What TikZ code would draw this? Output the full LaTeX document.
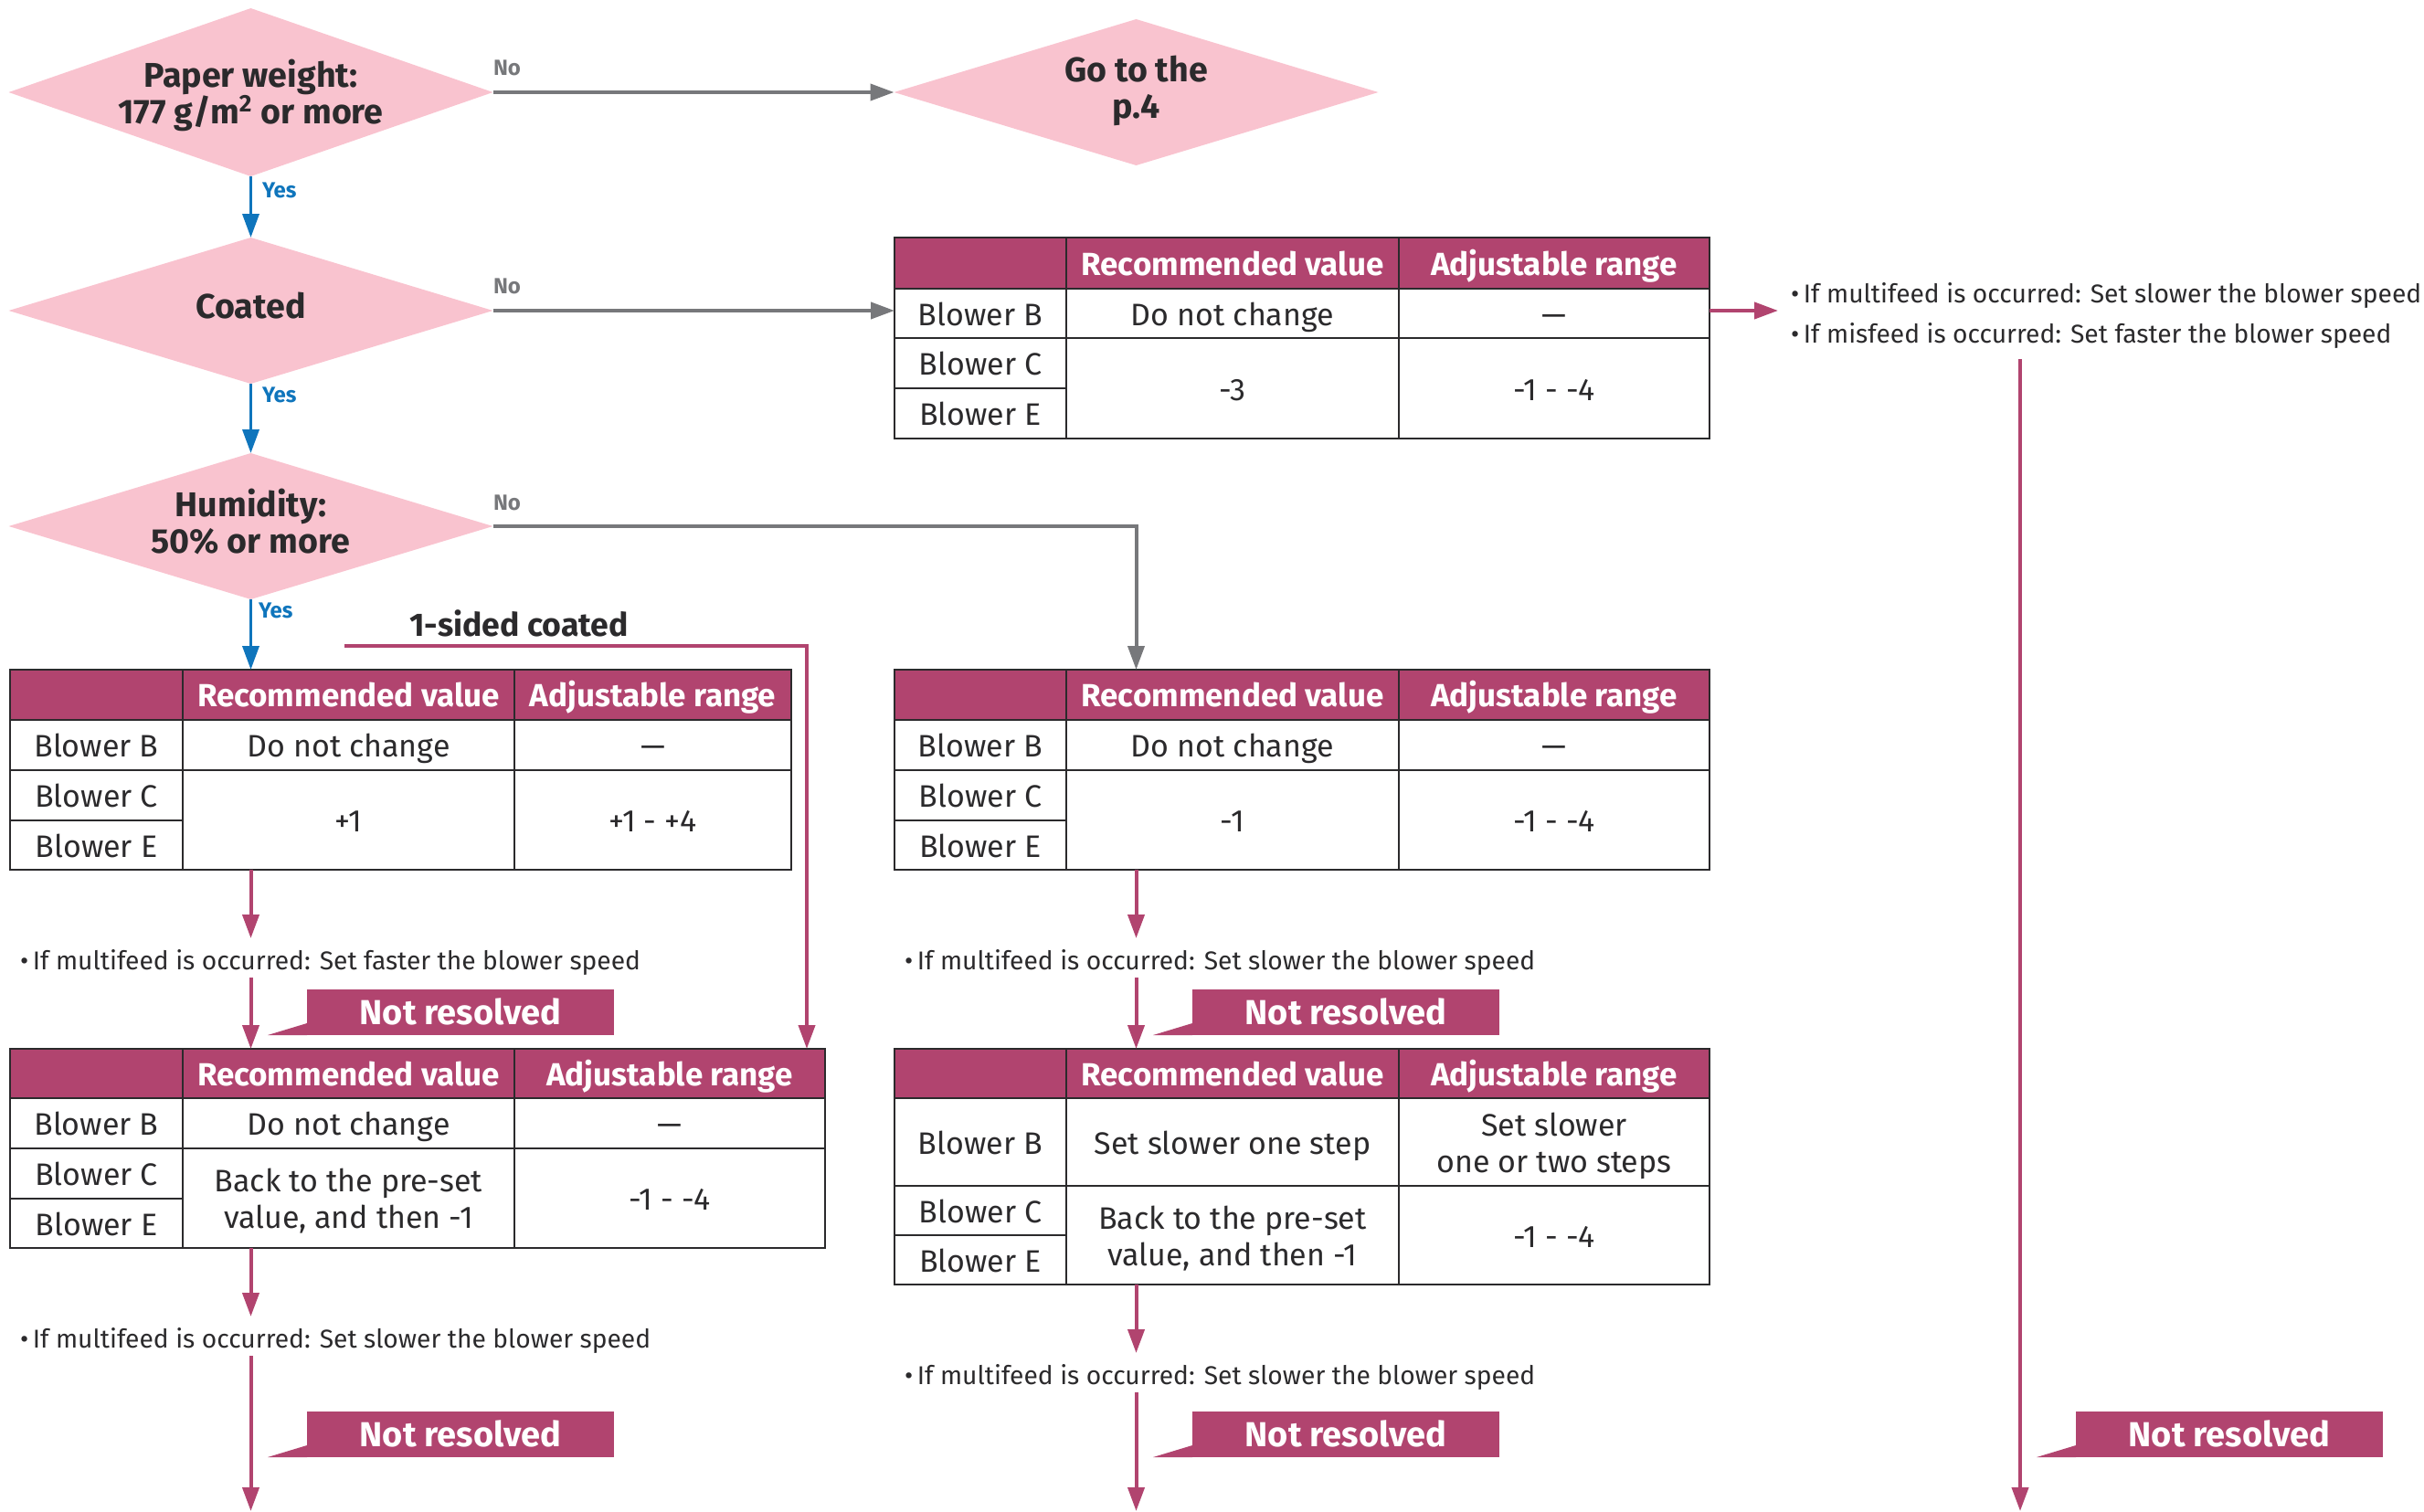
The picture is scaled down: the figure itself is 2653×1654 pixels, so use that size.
\documentclass[tikz,border=0pt]{standalone}
\usepackage{fontspec}
\setmainfont{Fira Sans}
\usetikzlibrary{arrows.meta,shapes.geometric}
\definecolor{mag}{HTML}{B1446F}
\definecolor{pinkd}{HTML}{F9C3CF}
\definecolor{bluel}{HTML}{0F75BC}
\definecolor{grayl}{HTML}{77787B}
\definecolor{ink}{HTML}{2B2A2C}
\newcommand{\lowered}[2]{\raisebox{-#1}[14pt][6pt]{#2}}
\tikzset{
  x=0.5pt,y=-0.5pt,
  every node/.style={inner sep=0pt,outer sep=0pt,text=ink,align=center},
  struts/.style={execute at begin node={\rule{0pt}{19pt}},execute at end node={\rule[-6pt]{0pt}{6pt}}},
  deci/.style={shape=diamond,fill=pinkd,font=\fontsize{18.8}{20}\selectfont\bfseries,
    execute at begin node={\rule{0pt}{14pt}},execute at end node={\rule[-6pt]{0pt}{6pt}}},
  hdr/.style={rectangle,draw=ink,line width=1pt,fill=mag,text=white,struts,font=\fontsize{17.5}{20}\selectfont\bfseries},
  bodyc/.style={rectangle,draw=ink,line width=1pt,fill=white,struts,font=\fontsize{17}{20}\selectfont},
  ghost/.style={rectangle},
  nresolved/.style={rectangle,fill=mag,text=white,struts,font=\fontsize{19}{20}\selectfont\bfseries},
  notetxt/.style={align=left,anchor=base west,text height=17pt,text depth=4.5pt,font=\fontsize{14.1}{21.5}\selectfont},
  yeslab/.style={text=bluel,font=\fontsize{12}{13}\selectfont\bfseries},
  nolab/.style={text=grayl,font=\fontsize{12}{13}\selectfont\bfseries},
  bluear/.style={draw=bluel,line width=1.8pt,-{Triangle[length=13pt,width=9pt]}},
  grayar/.style={draw=grayl,line width=2pt,-{Triangle[length=13pt,width=9pt]}},
  magar/.style={draw=mag,line width=2pt,-{Triangle[length=13pt,width=9pt]}},
}
\newcommand{\cell}[7]{%
  \pgfmathsetmacro\cw{(#4-#2)*0.5}%
  \pgfmathsetmacro\ch{(#5-#3)*0.5}%
  \pgfmathsetmacro\cx{(#2+#4)/2}%
  \pgfmathsetmacro\cy{(#3+#5)/2}%
  \node[#6,minimum width=\cw pt,minimum height=\ch pt] (#1) at (\cx,\cy) {#7};}
\newcommand{\setcols}[4]{\def\xa{#1}\def\xb{#2}\def\xc{#3}\def\xd{#4}}
\newcommand{\setrows}[5]{\def\ya{#1}\def\yb{#2}\def\yc{#3}\def\yd{#4}\def\ye{#5}}
\newcommand{\tbl}[5]{%
  \cell{#1}{\xa}{\ya}{\xd}{\ye}{ghost}{}%
  \cell{#1h0}{\xa}{\ya}{\xb}{\yb}{hdr}{}%
  \cell{#1h1}{\xb}{\ya}{\xc}{\yb}{hdr}{Recommended value}%
  \cell{#1h2}{\xc}{\ya}{\xd}{\yb}{hdr}{Adjustable range}%
  \cell{#1b}{\xa}{\yb}{\xb}{\yc}{bodyc}{Blower B}%
  \cell{#1c}{\xa}{\yc}{\xb}{\yd}{bodyc}{Blower C}%
  \cell{#1e}{\xa}{\yd}{\xb}{\ye}{bodyc}{Blower E}%
  \cell{#1v1}{\xb}{\yb}{\xc}{\yc}{bodyc}{#2}%
  \cell{#1v2}{\xb}{\yc}{\xc}{\ye}{bodyc}{#3}%
  \cell{#1r1}{\xc}{\yb}{\xd}{\yc}{bodyc}{#4}%
  \cell{#1r2}{\xc}{\yc}{\xd}{\ye}{bodyc}{#5}}
\newcommand{\notres}[3]{% name, left x, top y
  \pgfmathsetmacro\nrr{#2+336}\pgfmathsetmacro\nrb{#3+50}%
  \cell{#1}{#2}{#3}{\nrr}{\nrb}{nresolved}{Not resolved}%
  \fill[mag] (#1.south west) -- ++(-43,0) -- ([yshift=6.5pt]#1.south west) -- cycle;}
\begin{document}
\begin{tikzpicture}
\useasboundingbox (0,0) rectangle (2653,1654);
% decisions
\node[deci,minimum width=265pt,minimum height=92pt,shape aspect=2.85] (d1) at (274.5,101) {\lowered{3pt}{Paper weight:}\\\lowered{3pt}{177 g/m\textsuperscript{2} or more}};
\node[deci,minimum width=265pt,minimum height=80pt,shape aspect=3.28] (d2) at (274.5,340) {Coated};
\node[deci,minimum width=265pt,minimum height=80pt,shape aspect=3.28] (d3) at (274.5,576) {Humidity:\\50\% or more};
\node[deci,minimum width=265pt,minimum height=80pt,shape aspect=3.28] (d4) at (1243.5,101) {Go to the\\p.4};
% tables
\setcols{11}{200}{563}{866}\setrows{733}{788}{843}{898}{952}
\tbl{tb}{Do not change}{+1}{—}{+1 - +4}
\setcols{979}{1167}{1531}{1871}\setrows{260}{316}{370}{425}{480}
\tbl{ta}{Do not change}{-3}{—}{-1 - -4}
\setrows{733}{788}{843}{898}{952}
\tbl{tc}{Do not change}{-1}{—}{-1 - -4}
\setcols{11}{200}{563}{903}\setrows{1148}{1202}{1257}{1312}{1366}
\tbl{td}{Do not change}{\lowered{2.5pt}{Back to the pre-set}\\\lowered{2.5pt}{value, and then -1}}{—}{-1 - -4}
\setcols{979}{1167}{1531}{1871}\setrows{1148}{1202}{1298}{1352}{1406}
\tbl{te}{Set slower one step}{\lowered{2.5pt}{Back to the pre-set}\\\lowered{2.5pt}{value, and then -1}}{\lowered{2.5pt}{Set slower}\\\lowered{2.5pt}{one or two steps}}{-1 - -4}
% notes
\node[notetxt,inner xsep=7pt] (na) at (1946,331) {\textbullet\,If multifeed is occurred: Set slower the blower speed};
\node[notetxt,inner xsep=7pt,text depth=9pt] (naa) at (1946,375) {\textbullet\,If misfeed is occurred: Set faster the blower speed};
\node[notetxt] (nb) at (22,1061) {\textbullet\,If multifeed is occurred: Set faster the blower speed};
\node[notetxt] (nc) at (990,1061) {\textbullet\,If multifeed is occurred: Set slower the blower speed};
\node[notetxt] (nd) at (22,1475) {\textbullet\,If multifeed is occurred: Set slower the blower speed};
\node[notetxt] (ne) at (990,1515) {\textbullet\,If multifeed is occurred: Set slower the blower speed};
% not resolved flags
\notres{fb}{336}{1083}
\notres{fd}{336}{1545}
\notres{fc}{1305}{1083}
\notres{fe}{1305}{1545}
\notres{fa}{2272}{1545}
% free ends
\coordinate (bl) at (274.5,1654);
\coordinate (bm) at (1243.5,1654);
\coordinate (br) at (2211,1654);
\coordinate (sided) at (377,707);
\coordinate (sidedx) at (883,707);
% labels
\node[font=\fontsize{17.8}{20}\selectfont\bfseries] (sl) at (568,682) {1-sided coated};
\node[yeslab,anchor=west] (y1) at (287,208) {Yes};
\node[yeslab,anchor=west] (y2) at (287,432) {Yes};
\node[yeslab,anchor=west] (y3) at (283,668) {Yes};
\node[nolab,anchor=west] (n1) at (540,74) {No};
\node[nolab,anchor=west] (n2) at (540,313) {No};
\node[nolab,anchor=west] (n3) at (540,550) {No};
% connectors
\draw[bluear] (d1.south) -- (d2.north);
\draw[bluear] (d2.south) -- (d3.north);
\draw[bluear] (d3.south) -- (tb.north -| d3.south);
\draw[grayar] (d1.east) -- (d4.west);
\draw[grayar] (d2.east) -- (ta.west |- d2.east);
\draw[grayar] (d3.east) -| (tc.north -| d4.south);
\draw[magar] (ta.east |- d2.east) -- (na.west |- d2.east);
\draw[magar] (naa.south -| br) -- (br);
\draw[magar] (tb.south -| bl) -- (nb.north -| bl);
\draw[magar] (nb.south -| bl) -- (td.north -| bl);
\draw[magar] (td.south -| bl) -- (nd.north -| bl);
\draw[magar] (nd.south -| bl) -- (bl);
\draw[magar] (tc.south -| bm) -- (nc.north -| bm);
\draw[magar] (nc.south -| bm) -- (te.north -| bm);
\draw[magar] (te.south -| bm) -- (ne.north -| bm);
\draw[magar] (ne.south -| bm) -- (bm);
\draw[magar] (sided) -- (sidedx) -- (td.north -| sidedx);
\end{tikzpicture}
\end{document}
